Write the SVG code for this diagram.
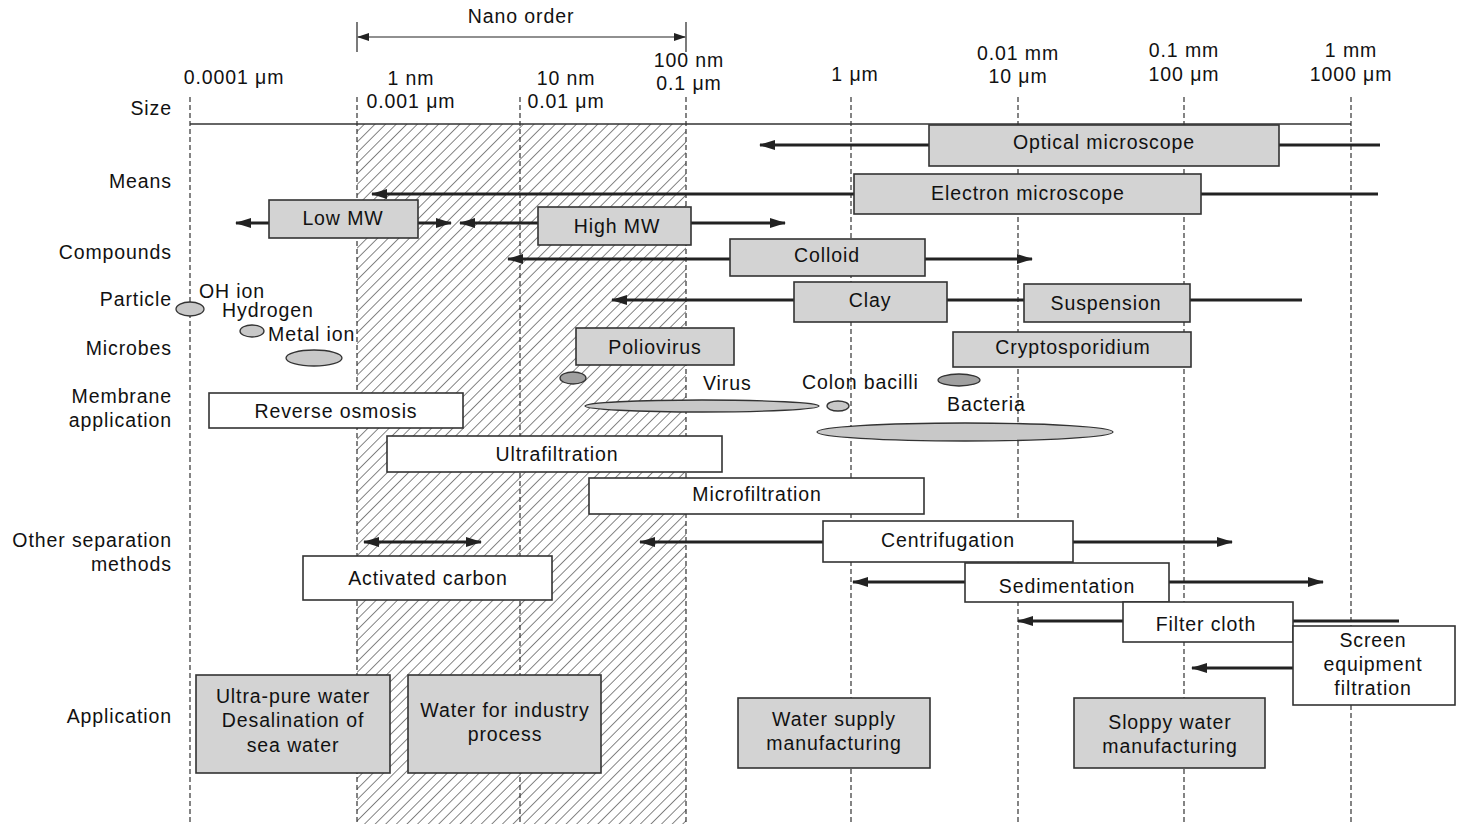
<svg xmlns="http://www.w3.org/2000/svg" width="1457" height="824" viewBox="0 0 1457 824">
  <defs>
    <pattern id="hatch" patternUnits="userSpaceOnUse" width="7.5" height="7.5" patternTransform="rotate(45)">
      <line x1="0" y1="0" x2="0" y2="7.5" stroke="#222" stroke-width="1.1"/>
    </pattern>
    <marker id="ah" viewBox="0 0 16 10" refX="15" refY="5" markerWidth="16" markerHeight="10" markerUnits="userSpaceOnUse" orient="auto-start-reverse">
      <path d="M0,0 L16,5 L0,10 z" fill="#222"/>
    </marker>
    <marker id="ahs" viewBox="0 0 12 8" refX="11" refY="4" markerWidth="12" markerHeight="8" markerUnits="userSpaceOnUse" orient="auto-start-reverse">
      <path d="M0,0 L12,4 L0,8 z" fill="#222"/>
    </marker>
  </defs>
  <style>
    text { font-family: "Liberation Sans", Arial, sans-serif; font-size: 19.5px; letter-spacing: 0.9px; fill: #111; }
    .c { text-anchor: middle; }
    .r { text-anchor: end; }
    .grid { stroke: #333; stroke-width: 1.2; stroke-dasharray: 5 3; fill: none; }
    .box { fill: #d3d3d3; stroke: #333; stroke-width: 1.6; }
    .wbox { fill: #fff; stroke: #333; stroke-width: 1.6; }
    .arr { stroke: #222; stroke-width: 3; fill: none; }
    .ell { fill: #c8c8c8; stroke: #333; stroke-width: 1.3; }
    .ell2 { fill: #a0a0a0; stroke: #333; stroke-width: 1.3; }
  </style>

  <rect width="1457" height="824" fill="#fff"/>

  <!-- nano-order band -->
  <rect x="357" y="124" width="329" height="700" fill="url(#hatch)"/>

  <!-- scale grid -->
  <g id="scale">
    <line class="grid" x1="190" y1="97" x2="190" y2="824"/>
    <line class="grid" x1="357" y1="97" x2="357" y2="824"/>
    <line class="grid" x1="520" y1="97" x2="520" y2="824"/>
    <line class="grid" x1="686" y1="97" x2="686" y2="824"/>
    <line class="grid" x1="851" y1="97" x2="851" y2="824"/>
    <line class="grid" x1="1018" y1="97" x2="1018" y2="824"/>
    <line class="grid" x1="1184" y1="97" x2="1184" y2="824"/>
    <line class="grid" x1="1351" y1="97" x2="1351" y2="824"/>
    <line x1="190" y1="124" x2="1351" y2="124" stroke="#333" stroke-width="1.5"/>

    <line x1="357" y1="22" x2="357" y2="52" stroke="#222" stroke-width="1.2"/>
    <line x1="686" y1="22" x2="686" y2="52" stroke="#222" stroke-width="1.2"/>
    <line x1="358" y1="37" x2="685" y2="37" stroke="#222" stroke-width="1.2" marker-start="url(#ahs)" marker-end="url(#ahs)"/>
    <text class="c" x="521" y="23">Nano order</text>

    <text class="c" x="234" y="84">0.0001 μm</text>
    <text class="c" x="411" y="85">1 nm</text>
    <text class="c" x="411" y="108">0.001 μm</text>
    <text class="c" x="566" y="85">10 nm</text>
    <text class="c" x="566" y="108">0.01 μm</text>
    <text class="c" x="689" y="67">100 nm</text>
    <text class="c" x="689" y="90">0.1 μm</text>
    <text class="c" x="855" y="81">1 μm</text>
    <text class="c" x="1018" y="60">0.01 mm</text>
    <text class="c" x="1018" y="83">10 μm</text>
    <text class="c" x="1184" y="57">0.1 mm</text>
    <text class="c" x="1184" y="81">100 μm</text>
    <text class="c" x="1351" y="57">1 mm</text>
    <text class="c" x="1351" y="81">1000 μm</text>
  </g>

  <!-- row labels -->
  <g id="row-labels">
    <text class="r" x="172" y="115">Size</text>
    <text class="r" x="172" y="188">Means</text>
    <text class="r" x="172" y="259">Compounds</text>
    <text class="r" x="172" y="306">Particle</text>
    <text class="r" x="172" y="355">Microbes</text>
    <text class="r" x="172" y="403">Membrane</text>
    <text class="r" x="172" y="427">application</text>
    <text class="r" x="172" y="547">Other separation</text>
    <text class="r" x="172" y="571">methods</text>
    <text class="r" x="172" y="723">Application</text>
  </g>

  <!-- connectors -->
  <g id="connectors">
    <line class="arr" x1="929" y1="145" x2="760" y2="145" marker-end="url(#ah)"/>
    <line class="arr" x1="1279" y1="145" x2="1380" y2="145"/>
    <line class="arr" x1="854" y1="194" x2="372" y2="194" marker-end="url(#ah)"/>
    <line class="arr" x1="1201" y1="194" x2="1378" y2="194"/>
    <line class="arr" x1="269" y1="223" x2="236" y2="223" marker-end="url(#ah)"/>
    <line class="arr" x1="418" y1="223" x2="451" y2="223" marker-end="url(#ah)"/>
    <line class="arr" x1="538" y1="223" x2="460" y2="223" marker-end="url(#ah)"/>
    <line class="arr" x1="691" y1="223" x2="785" y2="223" marker-end="url(#ah)"/>
    <line class="arr" x1="730" y1="259" x2="508" y2="259" marker-end="url(#ah)"/>
    <line class="arr" x1="925" y1="259" x2="1032" y2="259" marker-end="url(#ah)"/>
    <line class="arr" x1="794" y1="300" x2="612" y2="300" marker-end="url(#ah)"/>
    <line class="arr" x1="947" y1="300" x2="1024" y2="300"/>
    <line class="arr" x1="1190" y1="300" x2="1302" y2="300"/>
    <line class="arr" x1="823" y1="542" x2="640" y2="542" marker-end="url(#ah)"/>
    <line class="arr" x1="1073" y1="542" x2="1232" y2="542" marker-end="url(#ah)"/>
    <line class="arr" x1="965" y1="582" x2="853" y2="582" marker-end="url(#ah)"/>
    <line class="arr" x1="1169" y1="582" x2="1323" y2="582" marker-end="url(#ah)"/>
    <line class="arr" x1="1123" y1="621" x2="1018" y2="621" marker-end="url(#ah)"/>
    <line class="arr" x1="1293" y1="621" x2="1399" y2="621"/>
    <line class="arr" x1="1293" y1="668" x2="1192" y2="668" marker-end="url(#ah)"/>
    <line class="arr" x1="364" y1="542" x2="481" y2="542" marker-start="url(#ah)" marker-end="url(#ah)"/>
  </g>

  <!-- means -->
  <g id="optical-microscope">
    <rect class="box" x="929" y="125" width="350" height="41"/>
    <text class="c" x="1104" y="149">Optical microscope</text>
  </g>
  <g id="electron-microscope">
    <rect class="box" x="854" y="174" width="347" height="40"/>
    <text class="c" x="1028" y="200">Electron microscope</text>
  </g>

  <!-- compounds -->
  <g id="low-mw">
    <rect class="box" x="269" y="200" width="149" height="38"/>
    <text class="c" x="343" y="225">Low MW</text>
  </g>
  <g id="high-mw">
    <rect class="box" x="538" y="207" width="153" height="38"/>
    <text class="c" x="617" y="233">High MW</text>
  </g>
  <g id="colloid">
    <rect class="box" x="730" y="239" width="195" height="37"/>
    <text class="c" x="827" y="262">Colloid</text>
  </g>

  <!-- particles -->
  <g id="clay">
    <rect class="box" x="794" y="282" width="153" height="40"/>
    <text class="c" x="870" y="307">Clay</text>
  </g>
  <g id="suspension">
    <rect class="box" x="1024" y="284" width="166" height="38"/>
    <text class="c" x="1106" y="310">Suspension</text>
  </g>
  <g id="ions">
    <ellipse class="ell" cx="190" cy="309" rx="14" ry="7"/>
    <text x="199" y="298">OH ion</text>
    <ellipse class="ell" cx="252" cy="331" rx="12" ry="6"/>
    <text x="222" y="317">Hydrogen</text>
    <text x="268" y="341">Metal ion</text>
    <ellipse class="ell" cx="314" cy="358" rx="28" ry="8"/>
  </g>

  <!-- microbes -->
  <g id="poliovirus">
    <rect class="box" x="576" y="328" width="158" height="37"/>
    <text class="c" x="655" y="354">Poliovirus</text>
    <ellipse class="ell2" cx="573" cy="378" rx="13" ry="6"/>
  </g>
  <g id="cryptosporidium">
    <rect class="box" x="953" y="332" width="238" height="35"/>
    <text class="c" x="1073" y="354">Cryptosporidium</text>
    <ellipse class="ell2" cx="959" cy="380" rx="21" ry="6"/>
  </g>
  <g id="virus">
    <text x="703" y="390">Virus</text>
    <ellipse class="ell" cx="702" cy="406" rx="117" ry="6"/>
  </g>
  <g id="colon-bacilli">
    <text x="802" y="389">Colon bacilli</text>
    <ellipse class="ell" cx="838" cy="406" rx="11" ry="5"/>
  </g>
  <g id="bacteria">
    <text x="947" y="411">Bacteria</text>
    <ellipse class="ell" cx="965" cy="432" rx="148" ry="9"/>
  </g>

  <!-- membrane processes -->
  <g id="reverse-osmosis">
    <rect class="wbox" x="209" y="393" width="254" height="35"/>
    <text class="c" x="336" y="418">Reverse osmosis</text>
  </g>
  <g id="ultrafiltration">
    <rect class="wbox" x="387" y="436" width="335" height="36"/>
    <text class="c" x="557" y="461">Ultrafiltration</text>
  </g>
  <g id="microfiltration">
    <rect class="wbox" x="589" y="478" width="335" height="36"/>
    <text class="c" x="757" y="501">Microfiltration</text>
  </g>

  <!-- other separation methods -->
  <g id="centrifugation">
    <rect class="wbox" x="823" y="521" width="250" height="41"/>
    <text class="c" x="948" y="547">Centrifugation</text>
  </g>
  <g id="sedimentation">
    <rect class="wbox" x="965" y="563" width="204" height="39"/>
    <text class="c" x="1067" y="593">Sedimentation</text>
  </g>
  <g id="filter-cloth">
    <rect class="wbox" x="1123" y="602" width="170" height="40"/>
    <text class="c" x="1206" y="631">Filter cloth</text>
  </g>
  <g id="screen-filtration">
    <rect class="wbox" x="1293" y="626" width="162" height="79"/>
    <text class="c" x="1373" y="647">Screen</text>
    <text class="c" x="1373" y="671">equipment</text>
    <text class="c" x="1373" y="695">filtration</text>
  </g>
  <g id="activated-carbon">
    <rect class="wbox" x="303" y="556" width="249" height="44"/>
    <text class="c" x="428" y="585">Activated carbon</text>
  </g>

  <!-- applications -->
  <g id="ultra-pure-water">
    <rect class="box" x="196" y="675" width="194" height="98"/>
    <text class="c" x="293" y="703">Ultra-pure water</text>
    <text class="c" x="293" y="727">Desalination of</text>
    <text class="c" x="293" y="752">sea water</text>
  </g>
  <g id="industry-process-water">
    <rect class="box" x="408" y="675" width="193" height="98"/>
    <text class="c" x="505" y="717">Water for industry</text>
    <text class="c" x="505" y="741">process</text>
  </g>
  <g id="water-supply">
    <rect class="box" x="738" y="698" width="192" height="70"/>
    <text class="c" x="834" y="726">Water supply</text>
    <text class="c" x="834" y="750">manufacturing</text>
  </g>
  <g id="sloppy-water">
    <rect class="box" x="1074" y="698" width="191" height="70"/>
    <text class="c" x="1170" y="729">Sloppy water</text>
    <text class="c" x="1170" y="753">manufacturing</text>
  </g>
</svg>
